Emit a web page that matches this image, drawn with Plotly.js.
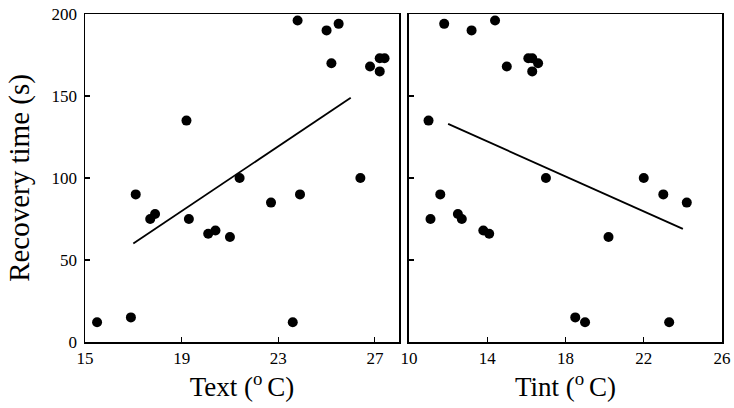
<!DOCTYPE html>
<html>
<head>
<meta charset="utf-8">
<script src="https://cdn.plot.ly/plotly-3.0.1.min.js"></script>
<style>html,body{margin:0;padding:0;background:#fff;}#chart{width:734px;height:408px;}</style>
</head>
<body>
<div id="chart"></div>
<script>
// Left panel: external temperature vs recovery time
var textTemp = [17.1, 19.2, 21.4, 23.8, 25.0, 25.5, 25.2, 26.4, 26.8, 27.2, 27.2, 27.4, 23.9, 22.7, 15.5, 16.9, 17.7, 17.9, 19.3, 20.1, 20.4, 21.0, 23.6];
var textRecovery = [90, 135, 100, 196, 190, 194, 170, 100, 168, 165, 173, 173, 90, 85, 12, 15, 75, 78, 75, 66, 68, 64, 12];
var textFitX = [17.0, 26.0];
var textFitY = [60, 149];

// Right panel: internal temperature vs recovery time
var tintTemp = [11.8, 13.2, 14.4, 15.0, 16.1, 16.3, 16.6, 16.3, 11.0, 17.0, 22.0, 11.6, 23.0, 24.2, 11.1, 12.5, 12.7, 13.8, 14.1, 20.2, 18.5, 19.0, 23.3];
var tintRecovery = [194, 190, 196, 168, 173, 173, 170, 165, 135, 100, 100, 90, 90, 85, 75, 78, 75, 68, 66, 64, 15, 12, 12];
var tintFitX = [12.0, 24.0];
var tintFitY = [133, 69];

var xTicksLeft = [15, 19, 23, 27];
var xTicksRight = [10, 14, 18, 22, 26];
var yTicks = [0, 50, 100, 150, 200];

var FONT = 'Liberation Serif, Times New Roman, Times, serif';

var traces = [
  {x: textTemp, y: textRecovery, type: 'scatter', mode: 'markers', xaxis: 'x', yaxis: 'y',
   marker: {color: '#000', size: 10}},
  {x: textFitX, y: textFitY, type: 'scatter', mode: 'lines', xaxis: 'x', yaxis: 'y',
   line: {color: '#000', width: 1.8}},
  {x: tintTemp, y: tintRecovery, type: 'scatter', mode: 'markers', xaxis: 'x2', yaxis: 'y2',
   marker: {color: '#000', size: 10}},
  {x: tintFitX, y: tintFitY, type: 'scatter', mode: 'lines', xaxis: 'x2', yaxis: 'y2',
   line: {color: '#000', width: 1.8}}
];

function axisBase() {
  return {
    showline: true, linecolor: '#000', linewidth: 1.5, mirror: true,
    ticks: 'inside', ticklen: 5, tickwidth: 1.2, tickcolor: '#000',
    showgrid: false, zeroline: false,
    tickfont: {family: FONT, size: 17, color: '#000'}
  };
}

var layout = {
  width: 734, height: 408,
  margin: {l: 85, r: 12, t: 14, b: 66},
  paper_bgcolor: '#fff', plot_bgcolor: '#fff',
  showlegend: false,
  font: {family: FONT, color: '#000'},
  xaxis: Object.assign(axisBase(), {
    domain: [0, 0.493], range: [15, 28], tickmode: 'array', tickvals: xTicksLeft,
    title: {text: 'Text (<sup>o </sup>C)', font: {family: FONT, size: 27, color: '#000'}, standoff: 7}
  }),
  yaxis: Object.assign(axisBase(), {
    range: [0, 200], tickmode: 'array', tickvals: yTicks, ticklabelstandoff: 3,
    title: {text: 'Recovery time (s)', font: {family: FONT, size: 29, color: '#000'}, standoff: 13}
  }),
  xaxis2: Object.assign(axisBase(), {
    domain: [0.5086, 1], range: [10, 26], tickmode: 'array', tickvals: xTicksRight, anchor: 'y2',
    title: {text: 'Tint (<sup>o </sup>C)', font: {family: FONT, size: 27, color: '#000'}, standoff: 7}
  }),
  yaxis2: Object.assign(axisBase(), {
    range: [0, 200], tickmode: 'array', tickvals: yTicks, showticklabels: false, anchor: 'x2'
  })
};

Plotly.newPlot('chart', traces, layout, {displayModeBar: false, staticPlot: true});
</script>
</body>
</html>
